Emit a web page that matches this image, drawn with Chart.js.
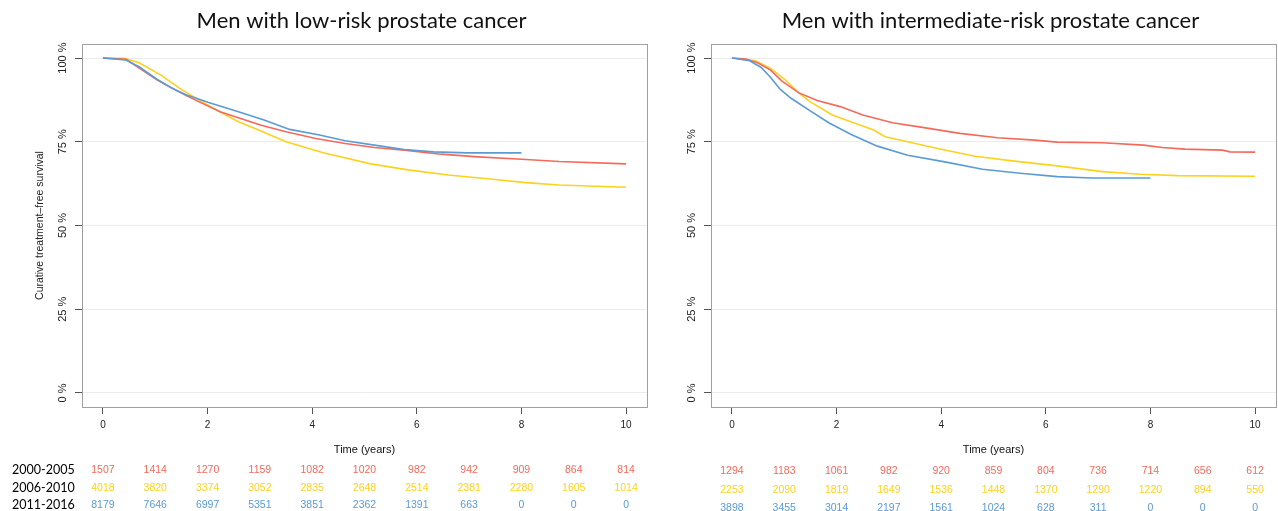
<!DOCTYPE html>
<html>
<head>
<meta charset="utf-8">
<script src="https://cdn.jsdelivr.net/npm/chart.js@4.4.1/dist/chart.umd.min.js"></script>
<style>
  html, body { margin: 0; padding: 0; background: #fff; }
  #wrap { position: relative; width: 1278px; height: 511px; overflow: hidden; }
  canvas { position: absolute; top: 0; }
  #c-low { left: 0; }
  #c-int { left: 655px; }
</style>
</head>
<body>
<div id="wrap">
  <canvas id="c-low" width="655" height="511"></canvas>
  <canvas id="c-int" width="623" height="511"></canvas>
</div>
<script>
// ── Data ────────────────────────────────────────────────────────────────
const groups  = ['2000-2005', '2006-2010', '2011-2016'];
const xTicks  = [0, 2, 4, 6, 8, 10];
const yTicks  = [0, 25, 50, 75, 100];
const riskAt  = [0, 1, 2, 3, 4, 5, 6, 7, 8, 9, 10];

// low-risk panel
const lowTime2000 = [0, 0.44, 1.04, 1.6, 2.24, 3.01, 3.5, 4.07, 4.63, 5.19, 5.76, 6.46, 7.17, 8.01, 8.72, 10];
const lowSurv2000 = [100, 99.6, 93.4, 88.7, 84.0, 80.0, 78.0, 76.0, 74.5, 73.3, 72.5, 71.3, 70.5, 69.8, 69.1, 68.4];
const lowTime2006 = [0, 0.41, 0.69, 1.11, 1.46, 1.89, 2.31, 2.59, 3.01, 3.5, 4.21, 5.12, 5.83, 6.6, 7.45, 8.08, 8.72, 10];
const lowSurv2006 = [100, 99.9, 98.6, 94.9, 91.0, 87.0, 83.3, 81.0, 78.3, 75.0, 71.7, 68.4, 66.6, 65.1, 63.8, 62.8, 62.1, 61.4];
const lowTime2011 = [0, 0.44, 0.69, 1.04, 1.32, 1.6, 2.02, 2.59, 3.08, 3.57, 4.14, 4.63, 5.19, 5.76, 6.32, 6.96, 8.0];
const lowSurv2011 = [100, 99.4, 97.4, 93.6, 91.0, 89.0, 86.7, 84.0, 81.5, 78.7, 77.0, 75.3, 74.0, 72.7, 72.0, 71.7, 71.7];

const lowRisk2000 = [1507, 1414, 1270, 1159, 1082, 1020, 982, 942, 909, 864, 814];
const lowRisk2006 = [4018, 3820, 3374, 3052, 2835, 2648, 2514, 2381, 2280, 1605, 1014];
const lowRisk2011 = [8179, 7646, 6997, 5351, 3851, 2362, 1391, 663, 0, 0, 0];

// intermediate-risk panel
const intTime2000 = [0, 0.27, 0.49, 0.74, 0.95, 1.28, 1.63, 2.07, 2.5, 3.07, 3.64, 4.36, 5.08, 5.79, 6.22, 7.08, 7.87, 8.23, 8.66, 9.38, 9.52, 10];
const intSurv2000 = [100, 99.7, 98.6, 96.4, 93.2, 89.6, 87.3, 85.5, 83.0, 80.7, 79.3, 77.5, 76.2, 75.5, 74.9, 74.7, 74.0, 73.3, 72.8, 72.5, 72.0, 71.9];
const intTime2006 = [0, 0.45, 0.74, 0.99, 1.28, 1.49, 1.92, 2.35, 2.71, 2.93, 3.36, 3.93, 4.65, 5.36, 6.22, 7.08, 7.8, 8.52, 10];
const intSurv2006 = [100, 99.2, 96.9, 93.9, 89.6, 87.0, 83.0, 80.5, 78.5, 76.5, 75.0, 73.0, 70.7, 69.3, 67.8, 66.1, 65.3, 64.9, 64.7];
const intTime2011 = [0, 0.34, 0.56, 0.74, 0.92, 1.13, 1.49, 1.85, 2.28, 2.78, 3.36, 4.07, 4.79, 5.51, 6.22, 6.87, 8.0];
const intSurv2011 = [100, 99.2, 97.2, 94.2, 90.7, 88.0, 84.3, 80.7, 77.2, 73.7, 71.0, 69.0, 66.8, 65.6, 64.6, 64.2, 64.2];

const intRisk2000 = [1294, 1183, 1061, 982, 920, 859, 804, 736, 714, 656, 612];
const intRisk2006 = [2253, 2090, 1819, 1649, 1536, 1448, 1370, 1290, 1220, 894, 550];
const intRisk2011 = [3898, 3455, 3014, 2197, 1561, 1024, 628, 311, 0, 0, 0];

const RED    = '#f36a5c';
const YELLOW = '#fdd21e';
const BLUE   = '#5b9bd5';
const FONT   = '"Liberation Sans", Arial, Helvetica, sans-serif';
const HEAD   = 'Lato, "Open Sans", sans-serif';

const toPts = (t, s) => t.map((v, i) => ({ x: v, y: s[i] }));

// ── Decorations: box, rotated y labels, titles, number-at-risk table ───
const kmDecor = {
  id: 'kmDecor',
  beforeDatasetsDraw(chart) {
    const { ctx, chartArea: a } = chart;
    ctx.save();
    ctx.strokeStyle = '#a0a0a0';
    ctx.lineWidth = 1;
    ctx.strokeRect(a.left + 0.5, a.top + 0.5, a.right - a.left, a.bottom - a.top);
    ctx.restore();
  },
  afterDraw(chart, args, opts) {
    const { ctx, chartArea: a, scales } = chart;
    const cx = (a.left + a.right) / 2;
    ctx.save();

    // title
    ctx.fillStyle = '#111';
    ctx.font = `22px ${HEAD}`;
    ctx.textAlign = 'center';
    ctx.textBaseline = 'middle';
    ctx.fillText(opts.title, cx - 3, 21);

    // y tick labels, rotated like base R
    ctx.fillStyle = '#222';
    ctx.font = `11px ${FONT}`;
    yTicks.forEach(v => {
      ctx.save();
      ctx.translate(a.left - 19, scales.y.getPixelForValue(v));
      ctx.rotate(-Math.PI / 2);
      ctx.fillText(v + ' %', 0, 0);
      ctx.restore();
    });

    if (opts.yTitle) {
      ctx.save();
      ctx.font = `10.5px ${FONT}`;
      ctx.translate(a.left - 42, scales.y.getPixelForValue(50));
      ctx.rotate(-Math.PI / 2);
      ctx.fillText(opts.yTitle, 0, 0);
      ctx.restore();
    }

    ctx.font = `11px ${FONT}`;
    ctx.fillStyle = '#111';
    ctx.fillText('Time (years)', cx, 450);

    // number at risk
    const colors = [RED, YELLOW, BLUE];
    opts.rows.forEach((row, r) => {
      const y = opts.rowY[r];
      ctx.font = `10.5px ${FONT}`;
      ctx.fillStyle = colors[r];
      ctx.textAlign = 'center';
      row.forEach((n, i) => ctx.fillText(String(n), scales.x.getPixelForValue(riskAt[i]), y));
      if (opts.showLabels) {
        ctx.font = `12.5px ${HEAD}`;
        ctx.fillStyle = '#000';
        ctx.textAlign = 'left';
        ctx.fillText(groups[r], 12, y);
      }
    });
    ctx.restore();
  },
};

function makeChart(id, series, deco, left, right) {
  const canvas = document.getElementById(id);
  return new Chart(canvas, {
    type: 'line',
    data: {
      datasets: [
        { label: groups[2], data: series[2], borderColor: BLUE },
        { label: groups[0], data: series[0], borderColor: RED },
        { label: groups[1], data: series[1], borderColor: YELLOW },
      ].map(d => ({ ...d, borderWidth: 1.6, pointRadius: 0, fill: false, tension: 0 })),
    },
    options: {
      responsive: false,
      animation: false,
      layout: { padding: { top: 44, right: canvas.width - right, left: 0, bottom: 0 } },
      scales: {
        x: {
          type: 'linear', min: -0.4, max: 10.4,
          afterBuildTicks: s => { s.ticks = xTicks.map(v => ({ value: v })); },
          afterFit: s => { s.height = 511 - 407; },
          grid: { drawOnChartArea: false, tickLength: 7, tickColor: '#555' },
          border: { display: false },
          ticks: { color: '#222', padding: 5, font: { family: FONT, size: 10 } },
        },
        y: {
          min: -4.2, max: 104.2,
          afterBuildTicks: s => { s.ticks = yTicks.map(v => ({ value: v })); },
          afterFit: s => { s.width = left; },
          grid: { color: '#ececec', tickLength: 7, tickColor: '#555' },
          border: { display: false },
          ticks: { display: false },
        },
      },
      plugins: {
        legend: { display: false },
        tooltip: { enabled: false },
        kmDecor: deco,
      },
    },
    plugins: [kmDecor],
  });
}

makeChart('c-low',
  [toPts(lowTime2000, lowSurv2000), toPts(lowTime2006, lowSurv2006), toPts(lowTime2011, lowSurv2011)],
  {
    title: 'Men with low-risk prostate cancer',
    yTitle: 'Curative treatment\u2013free survival',
    rows: [lowRisk2000, lowRisk2006, lowRisk2011],
    rowY: [470, 488, 505],
    showLabels: true,
  }, 82, 647);

makeChart('c-int',
  [toPts(intTime2000, intSurv2000), toPts(intTime2006, intSurv2006), toPts(intTime2011, intSurv2011)],
  {
    title: 'Men with intermediate-risk prostate cancer',
    yTitle: '',
    rows: [intRisk2000, intRisk2006, intRisk2011],
    rowY: [471, 490, 508],
    showLabels: false,
  }, 711 - 655, 1276 - 655);
</script>
</body>
</html>
